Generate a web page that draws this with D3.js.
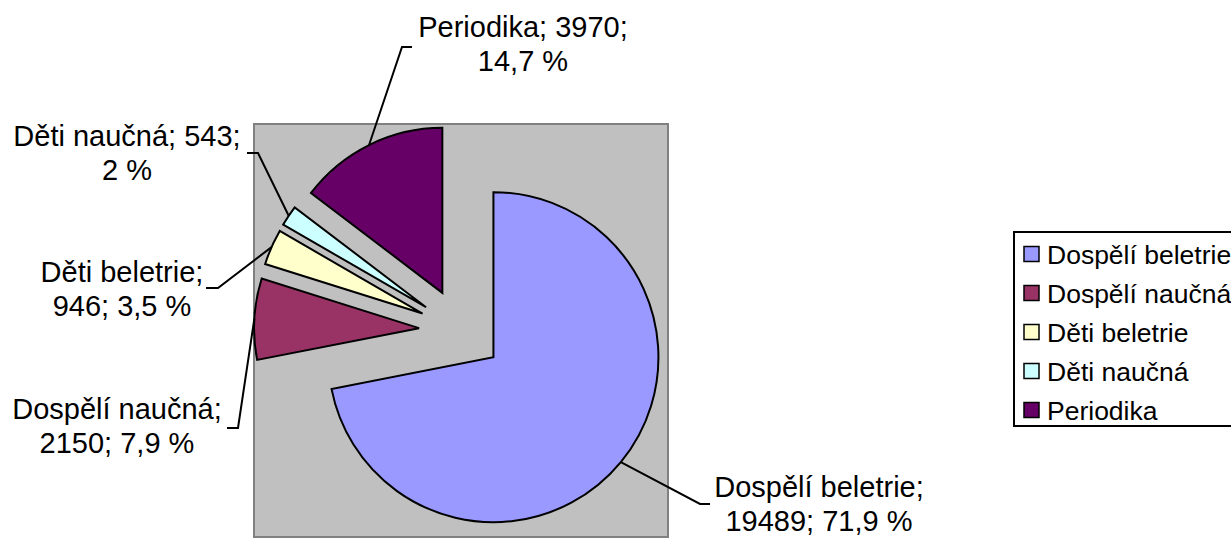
<!DOCTYPE html>
<html>
<head>
<meta charset="utf-8">
<script src="https://cdn.jsdelivr.net/npm/d3@7"></script>
<style>
  body { margin: 0; background: #fff; }
  svg { display: block; font-family: "Liberation Sans", Arial, sans-serif; }
</style>
</head>
<body>
<script>
// data
var categories = ["Dospělí beletrie", "Dospělí naučná", "Děti beletrie", "Děti naučná", "Periodika"];
var values = [19489, 2150, 946, 543, 3970];
var colors = ["#9999FF", "#993366", "#FFFFCC", "#CCFFFF", "#660066"];

// where each data label sits (x centre, first baseline) and the bend of its leader line
var labelPos = [
    {x: 819, y: 497, bend: [700, 504], end: [710, 504]},
    {x: 117, y: 419, bend: [238, 428], end: [227, 428]},
    {x: 122, y: 282, bend: [218, 288], end: [206, 288]},
    {x: 127, y: 146, bend: [258, 153], end: [247, 153]},
    {x: 523, y: 37,  bend: [402, 47],  end: [412, 47]}
];

(function(){
    var w = 1231, h = 538;
    var plot = {x: 254, y: 124, w: 414, h: 413};
    var radius = 165, explode = 42;
    var cx = plot.x + plot.w / 2, cy = plot.y + plot.h / 2;

    var svg = d3.select("body").append("svg")
        .attr("width", w)
        .attr("height", h);

    // plot area
    svg.append("rect")
        .attr("x", plot.x).attr("y", plot.y)
        .attr("width", plot.w).attr("height", plot.h)
        .attr("fill", "#C0C0C0")
        .attr("stroke", "#808080")
        .attr("stroke-width", 2);

    var total = d3.sum(values);
    var pie = d3.pie().sort(null).value(function(d){ return d; });
    var arcs = pie(values);
    var arc = d3.arc().innerRadius(0).outerRadius(radius);

    function offset(d){
        var a = (d.startAngle + d.endAngle) / 2;
        return [cx + explode * Math.sin(a), cy - explode * Math.cos(a)];
    }

    var g = svg.append("g");
    g.selectAll("path")
        .data(arcs)
        .enter()
        .append("path")
        .attr("transform", function(d){ var o = offset(d); return "translate(" + o[0] + "," + o[1] + ")"; })
        .attr("d", arc)
        .attr("fill", function(d, i){ return colors[i]; })
        .attr("stroke", "#000")
        .attr("stroke-width", 2)
        .attr("stroke-linejoin", "miter");

    // leader lines
    svg.selectAll("polyline.leader")
        .data(arcs)
        .enter()
        .append("polyline")
        .attr("class", "leader")
        .attr("fill", "none")
        .attr("stroke", "#000")
        .attr("stroke-width", 2)
        .attr("points", function(d, i){
            var o = offset(d);
            var a = (d.startAngle + d.endAngle) / 2;
            var p = [o[0] + radius * Math.sin(a), o[1] - radius * Math.cos(a)];
            var lp = labelPos[i];
            return [p, lp.bend, lp.end].map(function(q){ return q.join(","); }).join(" ");
        });

    // data labels
    var fmt = d3.format(".1~f");
    function lines(i){
        var pct = fmt(values[i] / total * 100).replace(".", ",") + " %";
        var parts = [categories[i] + ";", values[i] + ";", pct];
        // wrap like Excel did
        if (i === 0 || i === 1 || i === 2) return [parts[0], parts[1] + " " + parts[2]];
        return [parts[0] + " " + parts[1], parts[2]];
    }
    var labels = svg.selectAll("text.lbl")
        .data(arcs)
        .enter()
        .append("text")
        .attr("class", "lbl")
        .attr("text-anchor", "middle")
        .attr("font-size", 29)
        .attr("fill", "#000");
    labels.each(function(d, i){
        var t = d3.select(this);
        lines(i).forEach(function(s, k){
            t.append("tspan")
                .attr("x", labelPos[i].x)
                .attr("y", labelPos[i].y + k * 33.5)
                .text(s);
        });
    });

    // legend
    var lg = svg.append("g").attr("transform", "translate(1014,232)");
    lg.append("rect")
        .attr("x", 0).attr("y", 0)
        .attr("width", 240).attr("height", 194)
        .attr("fill", "#fff")
        .attr("stroke", "#000")
        .attr("stroke-width", 2);
    var items = lg.selectAll("g.item")
        .data(categories)
        .enter()
        .append("g")
        .attr("class", "item")
        .attr("transform", function(d, i){ return "translate(0," + (22 + i * 39) + ")"; });
    items.append("rect")
        .attr("x", 10).attr("y", -7.5)
        .attr("width", 15).attr("height", 15)
        .attr("fill", function(d, i){ return colors[i]; })
        .attr("stroke", "#000")
        .attr("stroke-width", 1.5);
    items.append("text")
        .attr("x", 33).attr("y", 9.5)
        .attr("font-size", 26.5)
        .text(function(d){ return d; });
}());
</script>
</body>
</html>
